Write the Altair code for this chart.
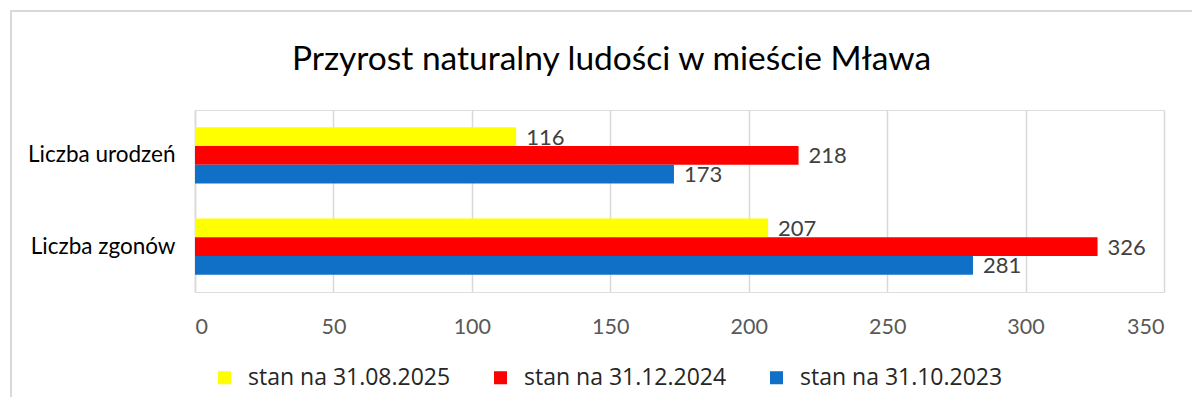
import altair as alt
import pandas as pd

categories = ["Liczba urodzeń", "Liczba zgonów"]
series = ["stan na 31.08.2025", "stan na 31.12.2024", "stan na 31.10.2023"]
colors = ["#FFFF00", "#FF0000", "#1070C8"]
v_2025 = [116, 207]
v_2024 = [218, 326]
v_2023 = [173, 281]
x_ticks = [0, 50, 100, 150, 200, 250, 300, 350]

rows = []
for s, vals in zip(series, [v_2025, v_2024, v_2023]):
    for c, v in zip(categories, vals):
        rows.append({"cat": c, "series": s, "value": v})
df = pd.DataFrame(rows)

FONT = "Lato"

y_enc = alt.Y("cat:N", sort=categories, title=None,
              scale=alt.Scale(paddingInner=0.385, paddingOuter=0.19),
              axis=alt.Axis(labelFont=FONT, labelFontSize=22.5, labelColor="#000000",
                            labelPadding=20, ticks=False, domain=True,
                            domainColor="#d9d9d9", domainWidth=1.5))
yoff = alt.YOffset("series:N", sort=series, scale=alt.Scale(paddingInner=0, paddingOuter=0))
x_enc = alt.X("value:Q", title=None,
              scale=alt.Scale(domain=[0, 350], nice=False),
              axis=alt.Axis(values=x_ticks, labelFont=FONT, labelFontSize=21.5,
                            labelColor="#595959", labelPadding=24, ticks=False,
                            domain=False, grid=True, gridColor="#d9d9d9", gridWidth=1.5))

base = alt.Chart(df)

bars = base.mark_bar().encode(
    x=x_enc, y=y_enc, yOffset=yoff,
    color=alt.Color("series:N", sort=series,
                    scale=alt.Scale(domain=series, range=colors),
                    legend=alt.Legend(title=None, orient="none", legendX=18, legendY=256,
                                      direction="horizontal", columns=3,
                                      symbolType="square", symbolSize=170,
                                      symbolStrokeWidth=0, labelFont="Open Sans",
                                      labelFontSize=23, labelColor="#262626",
                                      labelLimit=400,
                                      columnPadding=38, labelOffset=12)),
)

labels = base.mark_text(align="left", baseline="middle", dx=10, dy=1,
                        font=FONT, fontSize=22, color="#404040").encode(
    x="value:Q", y=alt.Y("cat:N", sort=categories), yOffset=yoff,
    text="value:Q",
)

frame = alt.Chart(pd.DataFrame({"a": [0]})).mark_rect(
    fill=None, stroke="#d9d9d9", strokeWidth=2, clip=False
).encode(x=alt.value(-184), x2=alt.value(1100), y=alt.value(-99), y2=alt.value(400))

chart = alt.layer(frame, bars, labels).properties(
    width=969, height=182,
    title=alt.TitleParams("Przyrost naturalny ludości w mieście Mława",
                          font=FONT, fontSize=33.5, fontWeight="normal",
                          color="#000000", anchor="middle", dx=-68, offset=-67),
    padding={"left": 187, "top": 102, "right": 28, "bottom": 105},
    autosize=alt.AutoSizeParams(type="none"),
).configure_view(stroke=None).configure(background="#ffffff")

chart.save("out.html", embed_options={"renderer": "svg", "actions": False})
